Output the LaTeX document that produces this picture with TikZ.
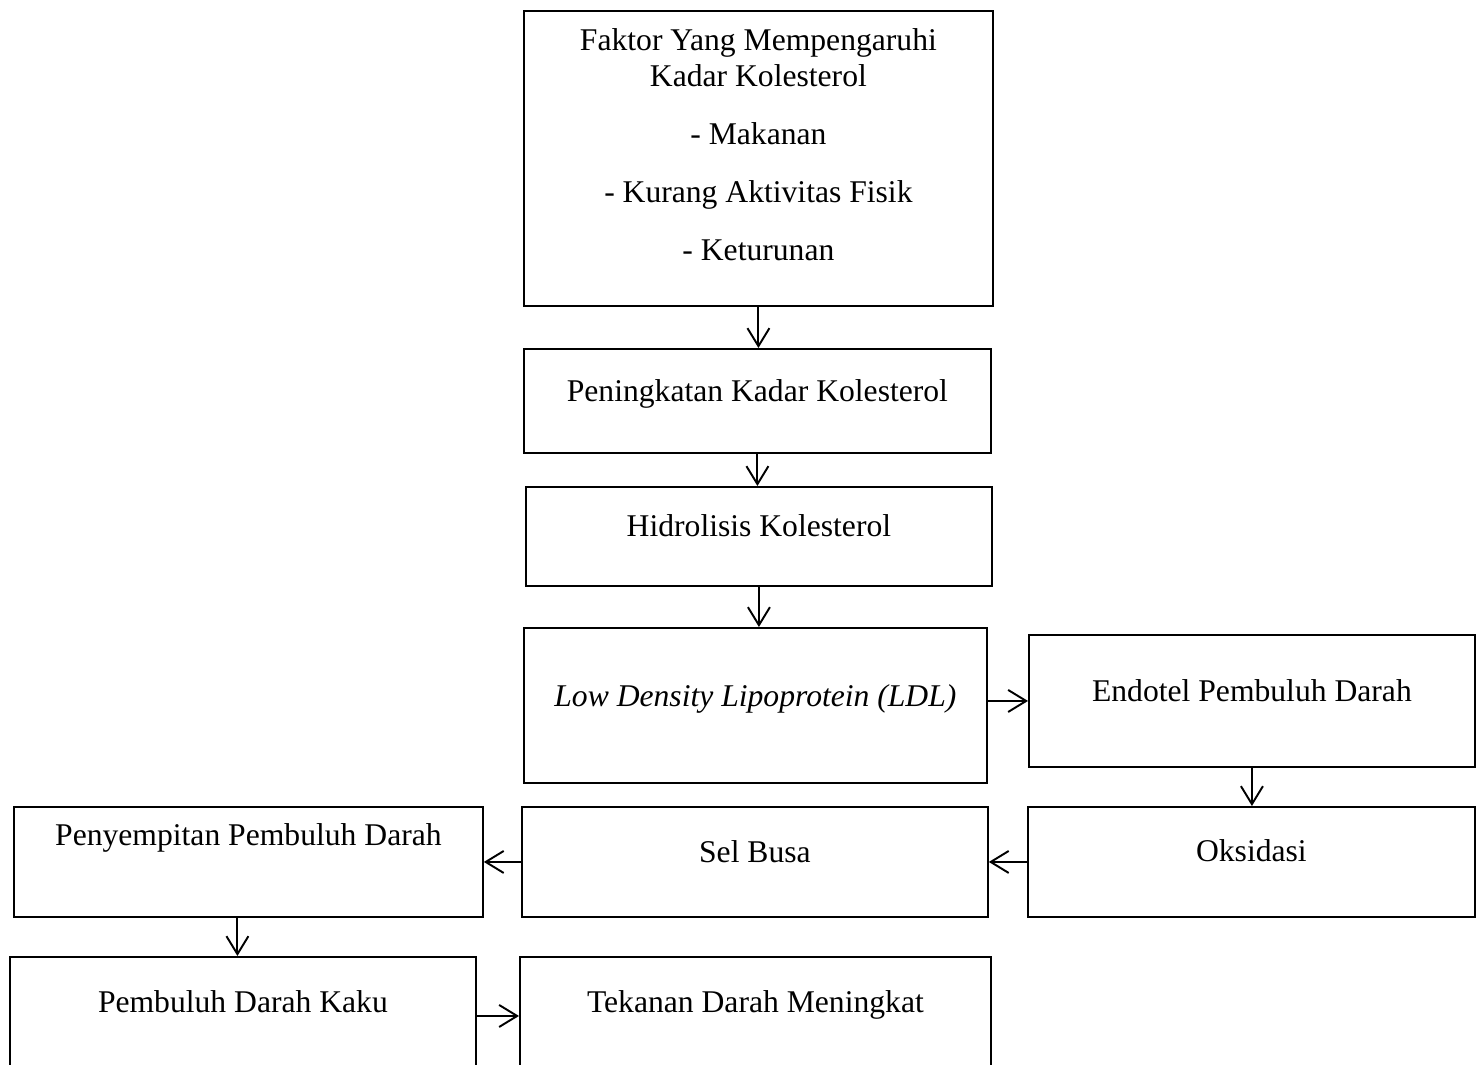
\documentclass[tikz,border=0pt]{standalone}
\usepackage{fontspec}
\setmainfont{Liberation Serif}
\usepackage{tikz}
\usetikzlibrary{arrows.meta,positioning}
\tikzstyle{panah} = [line width=1.1pt,-{Straight Barb[length=0.36cm,width=0.44cm]}]
\tikzstyle{kotak} = [rectangle, draw, line width=1.1pt, anchor=north west, inner xsep=0pt, inner ysep=0pt, align=center, font=\fontsize{18pt}{21pt}\selectfont]

\begin{document}
\begin{tikzpicture}[x=0.02cm,y=-0.02cm]
\useasboundingbox (0,0) rectangle (1479,1064);
\clip (0,0) rectangle (1479,1064);

% Middle column
\node (faktor) [kotak, minimum width=9.38cm, text height=5.00cm, text depth=0.90cm] at (523,10)
  {Faktor Yang Mempengaruhi\\Kadar Kolesterol\\[12pt]- Makanan\\[12pt]- Kurang Aktivitas Fisik\\[12pt]- Keturunan};
\node (naik) [kotak, minimum width=9.34cm, text height=1.06cm, text depth=1.02cm] at (523,348) {Peningkatan Kadar Kolesterol};
\node (hidrolisis) [kotak, minimum width=9.32cm, text height=1.00cm, text depth=0.98cm] at (525,486) {Hidrolisis Kolesterol};
\node (ldl) [kotak, minimum width=9.26cm, text height=1.58cm, text depth=1.52cm] at (523,627) {\textit{Low Density Lipoprotein (LDL)}};

% Right column
\node (endotel) [kotak, minimum width=8.92cm, text height=1.34cm, text depth=1.30cm] at (1028,634) {Endotel Pembuluh Darah};
\node (oksidasi) [kotak, minimum width=8.94cm, text height=1.10cm, text depth=1.10cm] at (1027,806) {Oksidasi};

% Lower rows
\node (selbusa) [kotak, minimum width=9.32cm, text height=1.12cm, text depth=1.08cm] at (521,806) {Sel Busa};
\node (sempit) [kotak, minimum width=9.38cm, text height=0.78cm, text depth=1.42cm] at (13,806) {Penyempitan Pembuluh Darah};
\node (kaku) [kotak, minimum width=9.32cm, text height=1.12cm, text depth=1.24cm] at (9,956) {Pembuluh Darah Kaku};
\node (tekanan) [kotak, minimum width=9.42cm, text height=1.12cm, text depth=1.24cm] at (519,956) {Tekanan Darah Meningkat};

% Arrows
\draw[panah] (faktor.south) -- (faktor.south |- naik.north);
\draw[panah] (naik.south) -- (naik.south |- hidrolisis.north);
\draw[panah] (hidrolisis.south) -- (hidrolisis.south |- ldl.north);
\draw[panah] (ldl.east |- endotel.west) -- (endotel.west);
\draw[panah] (endotel.south) -- (endotel.south |- oksidasi.north);
\draw[panah] (oksidasi.west) -- (oksidasi.west -| selbusa.east);
\draw[panah] (selbusa.west) -- (selbusa.west -| sempit.east);
\draw[panah] ([xshift=-0.22cm]sempit.south) -- ([xshift=-0.22cm]sempit.south |- kaku.north);
\draw[panah] (kaku.east) -- (kaku.east -| tekanan.west);
\end{tikzpicture}
\end{document}
